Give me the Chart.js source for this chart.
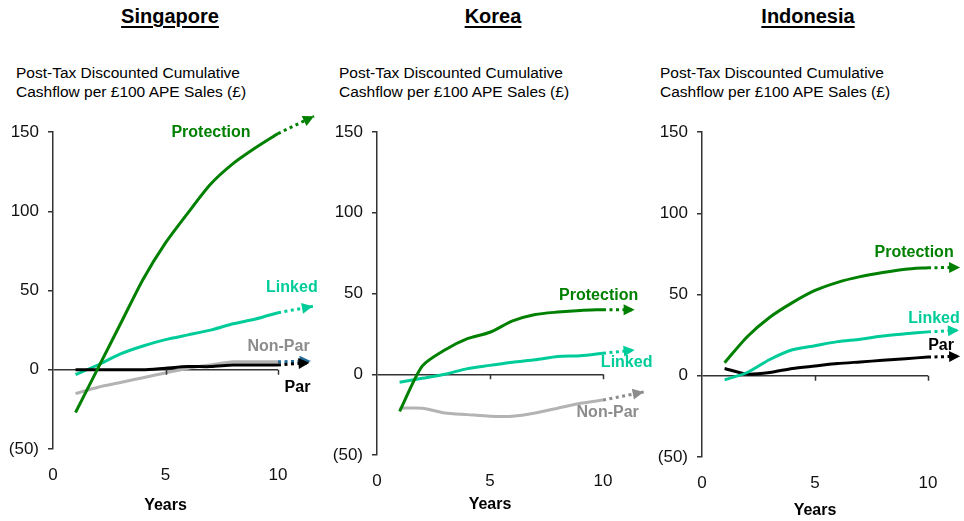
<!DOCTYPE html>
<html>
<head>
<meta charset="utf-8">
<title>Post-Tax Discounted Cumulative Cashflow</title>
<script src="https://cdn.jsdelivr.net/npm/chart.js@4/dist/chart.umd.min.js"></script>
<style>
  html, body { margin: 0; padding: 0; background: #fff; }
  .wrap { position: relative; width: 964px; height: 521px; overflow: hidden; }
  .wrap canvas { position: absolute; left: 0; top: 0; }
  .title {
    position: absolute; top: 6px; transform: translateX(-50%);
    font: bold 20px/20px "Liberation Sans", Arial, sans-serif; color: #000;
    text-decoration: underline; text-underline-offset: 3px; text-decoration-thickness: 2px;
    white-space: nowrap;
  }
  .sub {
    position: absolute; top: 63px;
    font: 15.5px/19px "Liberation Sans", Arial, sans-serif; color: #000;
    white-space: nowrap;
  }
</style>
</head>
<body>
<div class="wrap">
  <div class="title" style="left:170px">Singapore</div>
  <div class="title" style="left:493px">Korea</div>
  <div class="title" style="left:808px">Indonesia</div>
  <div class="sub" style="left:16px">Post-Tax Discounted Cumulative<br>Cashflow per £100 APE Sales (£)</div>
  <div class="sub" style="left:339px">Post-Tax Discounted Cumulative<br>Cashflow per £100 APE Sales (£)</div>
  <div class="sub" style="left:660px">Post-Tax Discounted Cumulative<br>Cashflow per £100 APE Sales (£)</div>
  <canvas id="sg" width="964" height="521"></canvas>
  <canvas id="kr" width="964" height="521"></canvas>
  <canvas id="id" width="964" height="521"></canvas>
</div>
<script>
// ---- Data ----
const years = [1, 2, 3, 4, 5, 6, 7, 8, 9, 10];
const yTicks = [-50, 0, 50, 100, 150];
const xTicks = [0, 5, 10];

// Singapore
const sgProtection = [-27, 1, 29, 57, 80, 99, 117, 130, 140, 149];
const sgLinked     = [-3, 3, 10, 15, 19, 22, 25, 29, 32, 36];
const sgNonPar     = [-15, -11, -8, -5, -2, 1, 3, 5, 5, 5];
const sgPar        = [0, 0, 0, 0, 1, 2, 2, 3, 3, 3];
// trend beyond year 10: [year, value]
const sgProtectionTrend = [11.6, 160];
const sgLinkedTrend     = [11.55, 40];
const sgNonParTrend     = [11.45, 5.5];
const sgParTrend        = [11.4, 4.4];

// Korea
const krProtection = [-23, 5, 15, 22, 26, 33, 37, 38.5, 39.5, 40];
const krLinked     = [-5, -2.5, 0, 3.5, 5.5, 7.5, 9, 11, 11.5, 13];
const krNonPar     = [-21, -21, -24, -25, -26, -26, -24, -21, -18, -16];
const krProtectionTrend = [11.4, 40];
const krLinkedTrend     = [11.4, 15];
const krNonParTrend     = [11.8, -11];

// Indonesia
const idProtection = [8, 24, 36, 45, 52.5, 57.5, 61, 63.5, 65.5, 66.5];
const idLinked     = [-2.5, 2, 10, 16, 18.5, 21, 22.5, 24.5, 25.8, 27];
const idPar        = [4.5, 1, 2, 4.5, 6, 7.5, 8.5, 9.5, 10.5, 11.5];
const idProtectionTrend = [11.42, 66.6];
const idLinkedTrend     = [11.37, 28];
const idParTrend        = [11.42, 12];

// ---- Styles ----
const GREEN = '#008000';
const TEAL = '#00cc99';
const BLACK = '#000000';
const GREY_LINE = '#b3b3b3';
const GREY_TEXT = '#8c8c8c';
const FONT = '"Liberation Sans", Arial, sans-serif';

Chart.defaults.font.family = FONT;
Chart.defaults.color = '#000';

// Arrowheads on the trend segments, x-axis tick marks and series names
const decor = {
  id: 'decor',
  afterDatasetsDraw(chart, args, opts) {
    const { ctx, scales: { x, y } } = chart;
    ctx.save();
    // small ticks hanging below the zero line
    ctx.strokeStyle = '#333';
    ctx.lineWidth = 1.5;
    const zy = y.getPixelForValue(0);
    [5, 10].forEach(v => {
      const px = Math.round(x.getPixelForValue(v)) + 0.5;
      ctx.beginPath();
      ctx.moveTo(px, zy);
      ctx.lineTo(px, zy + 5);
      ctx.stroke();
    });
    // arrowheads, back to front so the first series sits on top
    const list = chart.data.datasets.map((ds, i) => i).reverse();
    list.forEach(i => {
      const ds = chart.data.datasets[i];
      if (!ds.isTrend) return;
      const pts = chart.getDatasetMeta(i).data;
      const a = pts[0], b = pts[pts.length - 1];
      const ang = Math.atan2(b.y - a.y, b.x - a.x);
      const len = 11, half = 5.5;
      ctx.save();
      ctx.translate(b.x, b.y);
      ctx.rotate(ang);
      ctx.fillStyle = ds.borderColor;
      ctx.beginPath();
      ctx.moveTo(0, 0);
      ctx.lineTo(-len, -half);
      ctx.lineTo(-len, half);
      ctx.closePath();
      ctx.fill();
      ctx.restore();
    });
    // series names placed relative to the arrow tips
    ctx.font = 'bold 16px ' + FONT;
    ctx.textAlign = 'center';
    ctx.textBaseline = 'middle';
    (opts.labels || []).forEach(l => {
      const px = x.getPixelForValue(l.at[0]) + l.dx;
      const py = y.getPixelForValue(l.at[1]) + l.dy;
      ctx.fillStyle = l.color;
      ctx.fillText(l.text, px, py);
    });
    ctx.restore();
  }
};

function toPoints(values) {
  return values.map((v, i) => ({ x: years[i], y: v }));
}

function buildPanel(canvasId, p) {
  const Y_AXIS_W = 50;
  const datasets = [];
  p.series.forEach(s => {
    datasets.push({
      data: toPoints(s.values),
      borderColor: s.color,
      borderWidth: 3,
      pointRadius: 0,
      tension: 0.25,
      fill: false,
      clip: false
    });
  });
  // dotted trend segments are drawn beneath the solid lines
  p.series.forEach(s => {
    datasets.push({
      data: [{ x: 10, y: s.values[s.values.length - 1] }, { x: s.trend[0], y: s.trend[1] }],
      borderColor: s.trendColor || s.color,
      borderWidth: 3,
      borderDash: [3, 3.5],
      borderCapStyle: 'butt',
      pointRadius: 0,
      tension: 0,
      fill: false,
      clip: false,
      isTrend: true
    });
  });

  new Chart(document.getElementById(canvasId), {
    type: 'line',
    data: { datasets },
    options: {
      responsive: false,
      animation: false,
      devicePixelRatio: 1,
      layout: {
        padding: {
          left: p.left - Y_AXIS_W,
          right: 964 - p.right,
          top: p.top,
          bottom: 521 - p.axisBottom
        }
      },
      plugins: {
        legend: { display: false },
        tooltip: { enabled: false },
        decor: { labels: p.labels }
      },
      scales: {
        x: {
          type: 'linear',
          min: 0,
          max: 10,
          afterFit(scale) { scale.height = p.axisBottom - p.bottom; },
          afterBuildTicks(scale) { scale.ticks = xTicks.map(v => ({ value: v })); },
          grid: { display: false, drawTicks: false },
          border: { display: false },
          ticks: { padding: 16, font: { size: 17 }, color: '#111', maxRotation: 0 },
          title: {
            display: true,
            text: 'Years',
            font: { size: 16, weight: 'bold' },
            color: '#000',
            padding: { top: 0, bottom: 0 }
          }
        },
        y: {
          min: -50,
          max: 150,
          afterFit(scale) { scale.width = Y_AXIS_W; },
          afterBuildTicks(scale) { scale.ticks = yTicks.map(v => ({ value: v })); },
          ticks: {
            padding: 9,
            font: { size: 17 },
            color: '#111',
            callback: v => (v < 0 ? '(' + (-v) + ')' : String(v))
          },
          grid: {
            color: c => (c.tick && c.tick.value === 0 ? '#333' : 'rgba(0,0,0,0)'),
            tickColor: '#333',
            tickLength: 5,
            lineWidth: 1.5
          },
          border: { display: true, color: '#333', width: 1.5 }
        }
      }
    },
    plugins: [decor]
  });
}

buildPanel('sg', {
  left: 53, right: 278, top: 132, bottom: 449, axisBottom: 515,
  series: [
    { values: sgProtection, trend: sgProtectionTrend, color: GREEN },
    { values: sgPar, trend: sgParTrend, color: BLACK },
    { values: sgLinked, trend: sgLinkedTrend, color: TEAL },
    { values: sgNonPar, trend: sgNonParTrend, color: GREY_LINE, trendColor: '#1f6a96' }
  ],
  labels: [
    { text: 'Protection', color: GREEN, at: sgProtectionTrend, dx: -103, dy: 16 },
    { text: 'Linked', color: TEAL, at: sgLinkedTrend, dx: -21, dy: -19 },
    { text: 'Non-Par', color: GREY_TEXT, at: sgParTrend, dx: -31, dy: -16 },
    { text: 'Par', color: BLACK, at: sgParTrend, dx: -12, dy: 25 }
  ]
});

buildPanel('kr', {
  left: 377, right: 603, top: 132, bottom: 455, axisBottom: 514,
  series: [
    { values: krProtection, trend: krProtectionTrend, color: GREEN },
    { values: krLinked, trend: krLinkedTrend, color: TEAL },
    { values: krNonPar, trend: krNonParTrend, color: GREY_LINE, trendColor: GREY_TEXT }
  ],
  labels: [
    { text: 'Protection', color: GREEN, at: krProtectionTrend, dx: -36, dy: -14 },
    { text: 'Linked', color: TEAL, at: krLinkedTrend, dx: -8, dy: 13 },
    { text: 'Non-Par', color: GREY_TEXT, at: krNonParTrend, dx: -36, dy: 21 }
  ]
});

buildPanel('id', {
  left: 702, right: 928, top: 132, bottom: 457, axisBottom: 520,
  series: [
    { values: idProtection, trend: idProtectionTrend, color: GREEN },
    { values: idLinked, trend: idLinkedTrend, color: TEAL },
    { values: idPar, trend: idParTrend, color: BLACK }
  ],
  labels: [
    { text: 'Protection', color: GREEN, at: idProtectionTrend, dx: -46, dy: -15 },
    { text: 'Linked', color: TEAL, at: idLinkedTrend, dx: -25, dy: -12 },
    { text: 'Par', color: BLACK, at: idParTrend, dx: -19, dy: -11 }
  ]
});
</script>
</body>
</html>
